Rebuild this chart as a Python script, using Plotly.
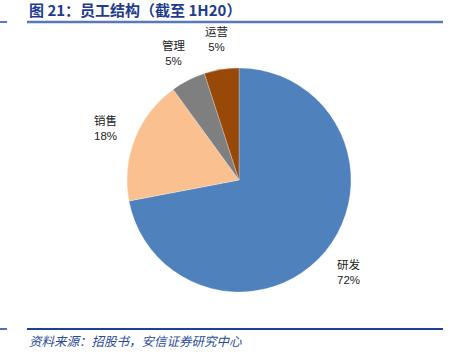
import math
import plotly.graph_objects as go

categories = ["研发", "销售", "管理", "运营"]
values = [72, 18, 5, 5]
colors = ["#4f81bd", "#fac090", "#7f7f7f", "#984807"]

W, H = 459, 354
title_text = "图 21：员工结构（截至 1H20）"
source_text = "资料来源：招股书，安信证券研究中心"

# pie geometry (pixels)
CX, CY, R = 239, 180, 112
LABEL_R = 1.28

fig = go.Figure()
fig.add_trace(go.Pie(
    labels=categories,
    values=values,
    sort=False,
    direction="clockwise",
    rotation=0,
    marker=dict(colors=colors, line=dict(color="rgba(255,255,255,0.5)", width=0.5)),
    textinfo="none",
    showlegend=False,
    hoverinfo="label+percent",
    domain=dict(x=[(CX - R) / W, (CX + R) / W], y=[(H - CY - R) / H, (H - CY + R) / H]),
))

# data labels placed at slice mid-angles (computed from values)
total = sum(values)
cum = 0
for cat, v in zip(categories, values):
    mid = (cum + v / 2) / total * 2 * math.pi
    cum += v
    px = CX + LABEL_R * R * math.sin(mid)
    py = CY - LABEL_R * R * math.cos(mid)
    fig.add_annotation(
        text=f"<span style='font-family:Noto Sans CJK SC'>{cat}</span><br>{round(v / total * 100)}%",
        xref="paper", yref="paper", x=px / W, y=1 - py / H,
        xanchor="center", yanchor="middle", showarrow=False,
        font=dict(family="Liberation Sans", size=11.5, color="#222222"),
    )

fig.update_layout(
    width=W, height=H,
    margin=dict(l=0, r=0, t=0, b=0),
    paper_bgcolor="white",
    font=dict(family="Noto Sans CJK SC"),
)

# header / footer rules
fig.add_shape(type="line", xref="paper", yref="paper", x0=0, x1=7 / W, y0=1 - 22 / H, y1=1 - 22 / H,
              line=dict(color="#5a78b8", width=2))
fig.add_shape(type="line", xref="paper", yref="paper", x0=27 / W, x1=443 / W, y0=1 - 22 / H, y1=1 - 22 / H,
              line=dict(color="#5a78b8", width=2.5))
fig.add_shape(type="line", xref="paper", yref="paper", x0=0, x1=7 / W, y0=1 - 329 / H, y1=1 - 329 / H,
              line=dict(color="#1f3f99", width=1.5))
fig.add_shape(type="line", xref="paper", yref="paper", x0=27 / W, x1=443 / W, y0=1 - 329 / H, y1=1 - 329 / H,
              line=dict(color="#1f3f99", width=2))

fig.add_annotation(text="<b>" + title_text + "</b>", xref="paper", yref="paper",
                   x=27 / W, y=1 - 10 / H, xanchor="left", yanchor="middle", showarrow=False,
                   font=dict(family="Noto Sans CJK SC", size=15, color="#1f3c8f"))
fig.add_annotation(text="<i>" + source_text + "</i>", xref="paper", yref="paper",
                   x=27 / W, y=1 - 340 / H, xanchor="left", yanchor="middle", showarrow=False,
                   font=dict(family="Noto Sans CJK SC", size=12.5, color="#2a4a9a"))

fig.write_html("out.html")
